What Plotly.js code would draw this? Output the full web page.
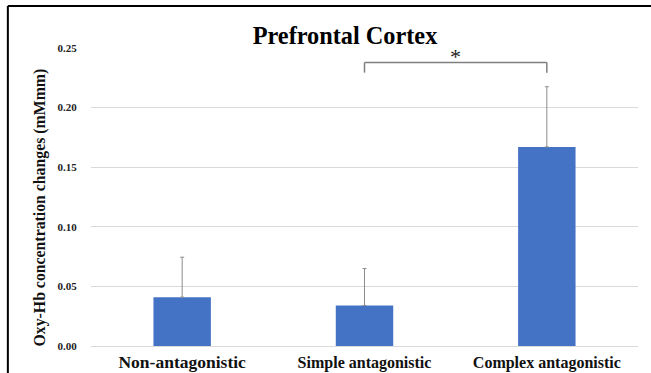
<!DOCTYPE html>
<html>
<head>
<meta charset="utf-8">
<script src="https://cdn.plot.ly/plotly-3.0.1.min.js"></script>
<style>html,body{margin:0;padding:0;background:#fff;}#chart{width:651px;height:373px;}</style>
</head>
<body>
<div id="chart"></div>
<script>
var categories = ['Non-antagonistic', 'Simple antagonistic', 'Complex antagonistic'];
var labelSizes = [17.5, 16, 16];
var means = [0.041, 0.034, 0.167];
var errors = [0.0335, 0.031, 0.0505];
var yTicks = [0, 0.05, 0.10, 0.15, 0.20, 0.25];
var yTickText = ['0.00', '0.05', '0.10', '0.15', '0.20', '0.25'];
var sigPair = [1, 2];
var sigLevel = 0.2378;
var sigDrop = 0.0085;
var sigLabel = '*';

var serif = '"Liberation Serif", "Times New Roman", serif';

var trace = {
  type: 'bar',
  x: [0, 1, 2],
  y: means,
  width: 0.315,
  marker: {color: '#4472C4'},
  error_y: {type: 'data', array: errors, symmetric: false, arrayminus: [0,0,0], visible: true, color: '#8c8c8c', thickness: 1, width: 2},
  hoverinfo: 'none'
};

var shapes = [
  {type:'line', xref:'x', yref:'y', x0:sigPair[0], x1:sigPair[0], y0:sigLevel - sigDrop, y1:sigLevel, line:{color:'#7f7f7f', width:1.5}},
  {type:'line', xref:'x', yref:'y', x0:sigPair[0], x1:sigPair[1], y0:sigLevel, y1:sigLevel, line:{color:'#7f7f7f', width:1.5}},
  {type:'line', xref:'x', yref:'y', x0:sigPair[1], x1:sigPair[1], y0:sigLevel - sigDrop, y1:sigLevel, line:{color:'#7f7f7f', width:1.5}},
  {type:'line', xref:'paper', yref:'paper', x0:-0.152, x1:-0.152, y0:-0.2, y1:1.141, line:{color:'#000', width:2}},
  {type:'line', xref:'paper', yref:'paper', x0:-0.152, x1:1.1, y0:1.141, y1:1.141, line:{color:'#000', width:2}}
];

var annotations = [
  {xref:'x', yref:'y', x:(sigPair[0]+sigPair[1])/2, y:sigLevel, text:sigLabel, showarrow:false, yanchor:'bottom', yshift:-8, font:{family:serif, size:22, color:'#222'}},
  {xref:'paper', yref:'paper', x:(39-91)/547, y:(346-207.5)/298, text:'<b>Oxy-Hb concentration changes (mMmm)</b>', textangle:-90, showarrow:false, xanchor:'center', yanchor:'middle', font:{family:serif, size:15.8, color:'#111'}}
];

var layout = {
  width: 651, height: 373,
  margin: {l: 91, r: 13, t: 48, b: 27, pad: 0},
  paper_bgcolor: '#fff', plot_bgcolor: '#fff',
  showlegend: false,
  title: {text: '<b>Prefrontal Cortex</b>', xref:'container', yref:'container', x: 345/651, y: 1 - 35.5/373, xanchor:'center', yanchor:'middle', font:{family: serif, size: 24.3, color:'#000'}},
  xaxis: {
    range: [-0.5, 2.5], tickvals: [0,1,2],
    ticktext: categories.map(function(t, i){return '<b><span style="font-size:' + labelSizes[i] + 'px">' + t + '</span></b>';}),
    showgrid: false, zeroline: false, showline: false,
    ticks: 'outside', ticklen: 2, tickcolor: 'rgba(0,0,0,0)',
    tickfont: {family: serif, size: 16, color: '#111'}
  },
  yaxis: {
    range: [0, 0.25], tickvals: yTicks, ticktext: yTickText.map(function(t){return '<b>'+t+'</b>';}),
    showgrid: true, gridcolor: '#d9d9d9', gridwidth: 1,
    zeroline: true, zerolinecolor: '#d9d9d9', zerolinewidth: 1, showline: false,
    ticks: 'outside', ticklen: 11, tickcolor: 'rgba(0,0,0,0)',
    tickfont: {family: serif, size: 11, color: '#222'}
  },
  shapes: shapes,
  annotations: annotations
};

Plotly.newPlot('chart', [trace], layout, {displayModeBar: false, staticPlot: true});
</script>
</body>
</html>
